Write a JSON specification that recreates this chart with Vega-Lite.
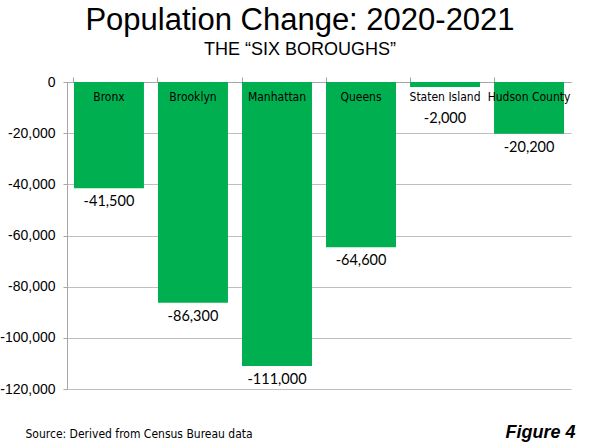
{
  "$schema": "https://vega.github.io/schema/vega-lite/v6.json",
  "width": 504,
  "height": 307,
  "autosize": {"type": "none"},
  "padding": {"left": 67, "top": 82, "right": 20, "bottom": 54},
  "background": "white",
  "title": {
    "text": "Population Change: 2020-2021",
    "subtitle": "THE \u201cSIX BOROUGHS\u201d",
    "anchor": "middle",
    "dx": -19,
    "font": "Liberation Sans",
    "fontSize": 31,
    "fontWeight": "normal",
    "color": "black",
    "subtitleFont": "Liberation Sans",
    "subtitleFontSize": 18,
    "subtitleColor": "black",
    "subtitlePadding": 4,
    "offset": 15
  },
  "data": {
    "values": [
      {"Borough": "Bronx", "Change": -41500},
      {"Borough": "Brooklyn", "Change": -86300},
      {"Borough": "Manhattan", "Change": -111000},
      {"Borough": "Queens", "Change": -64600},
      {"Borough": "Staten Island", "Change": -2000},
      {"Borough": "Hudson County", "Change": -20200}
    ]
  },
  "encoding": {
    "x": {
      "field": "Borough",
      "type": "nominal",
      "sort": null,
      "scale": {"paddingInner": 0.167, "paddingOuter": 0.083}
    }
  },
  "layer": [
    {
      "mark": {"type": "bar", "color": "#00B050"},
      "encoding": {
        "x": {
          "field": "Borough",
          "type": "nominal",
          "sort": null,
          "axis": {
            "orient": "top",
            "labels": false,
            "title": null,
            "bandPosition": 0,
            "ticks": true,
            "tickSize": 5,
            "tickColor": "#a6a6a6",
            "domainColor": "#a6a6a6"
          }
        },
        "y": {
          "field": "Change",
          "type": "quantitative",
          "scale": {"domain": [-120000, 0], "nice": false, "zero": false},
          "axis": {
            "orient": "left",
            "values": [0, -20000, -40000, -60000, -80000, -100000, -120000],
            "format": ",.0f",
            "title": null,
            "grid": true,
            "gridColor": "#bfbfbf",
            "domainColor": "#a6a6a6",
            "tickColor": "#a6a6a6",
            "tickSize": 4,
            "labelFont": "Liberation Sans",
            "labelFontSize": 14,
            "labelColor": "black",
            "labelPadding": 8
          }
        }
      }
    },
    {
      "mark": {
        "type": "text",
        "font": "DejaVu Sans Condensed, Liberation Sans, sans-serif",
        "fontSize": 12,
        "color": "black",
        "baseline": "middle",
        "dy": 15
      },
      "encoding": {
        "text": {"field": "Borough"},
        "y": {"datum": 0, "axis": null},
        "x": {
          "field": "Borough",
          "type": "nominal",
          "sort": null,
          "axis": {
            "orient": "bottom",
            "labels": false,
            "ticks": false,
            "domain": false,
            "grid": false,
            "title": "Source: Derived from Census Bureau data",
            "titleFont": "DejaVu Sans Condensed, Liberation Sans, sans-serif",
            "titleFontSize": 12,
            "titleFontWeight": "normal",
            "titleColor": "black",
            "titleAnchor": "start",
            "titleAlign": "left",
            "titleBaseline": "alphabetic",
            "titleX": -42,
            "titleY": 48
          }
        }
      }
    },
    {
      "transform": [{"filter": "datum.Borough !== 'Staten Island'"}],
      "mark": {
        "type": "text",
        "font": "Lato",
        "fontSize": 14.5,
        "color": "black",
        "baseline": "middle",
        "dy": 14
      },
      "encoding": {
        "text": {"field": "Change", "type": "quantitative", "format": ","},
        "x": {"field": "Borough", "type": "nominal", "sort": null, "axis": null},
        "y": {
          "field": "Change",
          "type": "quantitative",
          "axis": {
            "orient": "right",
            "labels": false,
            "ticks": false,
            "domain": false,
            "grid": false,
            "title": "Figure 4",
            "titleFont": "Liberation Sans",
            "titleFontSize": 18,
            "titleFontWeight": "bold",
            "titleFontStyle": "italic",
            "titleColor": "black",
            "titleAngle": 0,
            "titleAlign": "right",
            "titleBaseline": "alphabetic",
            "titleX": 4,
            "titleY": 355
          }
        }
      }
    },
    {
      "transform": [{"filter": "datum.Borough === 'Staten Island'"}],
      "mark": {
        "type": "text",
        "font": "Lato",
        "fontSize": 14.5,
        "color": "black",
        "baseline": "middle",
        "dy": 32
      },
      "encoding": {
        "text": {"field": "Change", "type": "quantitative", "format": ","},
        "x": {"field": "Borough", "type": "nominal", "sort": null, "axis": null},
        "y": {"field": "Change", "type": "quantitative", "axis": null}
      }
    }
  ],
  "resolve": {"axis": {"x": "independent", "y": "independent"}},
  "config": {
    "view": {"stroke": null},
    "locale": {
      "number": {
        "decimal": ".",
        "thousands": ",",
        "grouping": [3],
        "currency": ["$", ""],
        "minus": "-"
      }
    }
  }
}
